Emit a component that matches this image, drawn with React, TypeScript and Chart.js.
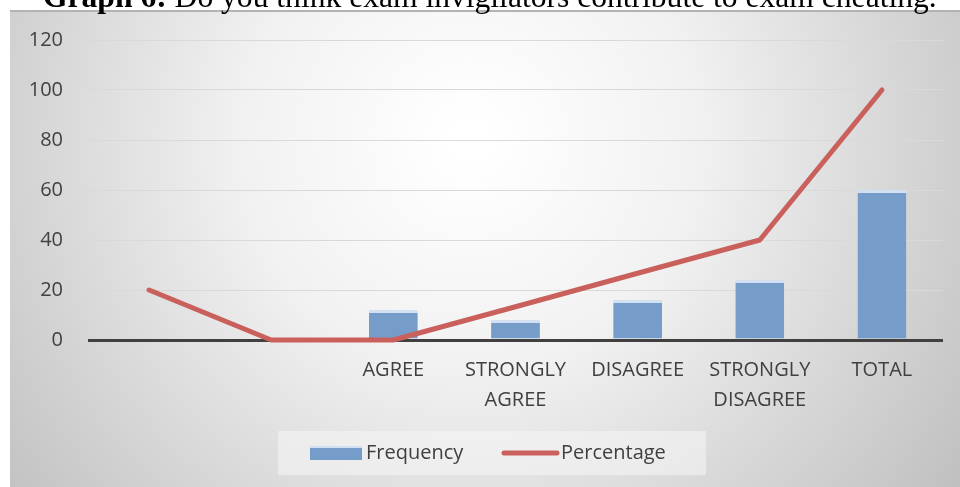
import { useEffect, useRef } from "react";
import { Chart, registerables } from "chart.js";

Chart.register(...registerables);

// Chart content
const TITLE_LEAD = "Graph 6:";
const TITLE_REST = " Do you think exam invigilators contribute to exam cheating.";
const categories: (string | string[])[] = [
  "",
  "",
  "AGREE",
  ["STRONGLY", "AGREE"],
  "DISAGREE",
  ["STRONGLY", "DISAGREE"],
  "TOTAL",
];
const frequency: (number | null)[] = [null, null, 12, 8, 16, 24, 60];
const percentage: number[] = [20, 0, 0, 13.3, 26.7, 40, 100];
const seriesNames = ["Frequency", "Percentage"];
const yMin = 0;
const yMax = 120;
const yStep = 20;

// Styling
const BAR_COLOR = "#769cc9";
const BAR_CAP = "#d3e0f1";
const LINE_COLOR = "#c9605c";
const TEXT_COLOR = "#404040";
const FONT = "'Open Sans', 'Liberation Sans', sans-serif";
const SERIF = "'Liberation Serif', 'DejaVu Serif', serif";

const W = 960;
const H = 487;
const FRAME_LEFT = 10;
const FRAME_TOP = 10;

const backdrop = {
  id: "backdrop",
  beforeDraw(chart: Chart) {
    const ctx = chart.ctx;
    ctx.save();
    ctx.fillStyle = "#ffffff";
    ctx.fillRect(0, 0, W, H);
    const g = ctx.createRadialGradient(470, 140, 20, 470, 140, 620);
    g.addColorStop(0, "#ffffff");
    g.addColorStop(0.35, "#f1f1f1");
    g.addColorStop(1, "#bdbdbd");
    ctx.fillStyle = g;
    ctx.fillRect(FRAME_LEFT, FRAME_TOP, W - FRAME_LEFT, H - FRAME_TOP);
    ctx.fillStyle = "#b3b3b3";
    ctx.fillRect(FRAME_LEFT, FRAME_TOP, W - FRAME_LEFT, 2);
    ctx.restore();
  },
};

const titleAndLegend = {
  id: "titleAndLegend",
  afterDraw(chart: Chart) {
    const ctx = chart.ctx;
    ctx.save();

    // Title, clipped at the top edge of the page
    const startX = 43;
    const endX = 937;
    let size = 28;
    ctx.font = `bold ${size}px ${SERIF}`;
    let w1 = ctx.measureText(TITLE_LEAD).width;
    ctx.font = `${size}px ${SERIF}`;
    let w2 = ctx.measureText(TITLE_REST).width;
    size = (size * (endX - startX)) / (w1 + w2);
    ctx.font = `bold ${size}px ${SERIF}`;
    w1 = ctx.measureText(TITLE_LEAD).width;
    ctx.fillStyle = "#000000";
    ctx.textBaseline = "alphabetic";
    ctx.textAlign = "left";
    ctx.fillText(TITLE_LEAD, startX, 7);
    ctx.font = `${size}px ${SERIF}`;
    ctx.fillText(TITLE_REST, startX + w1, 7);

    // Legend
    const bx = 278;
    const by = 431;
    ctx.fillStyle = "rgba(245,245,245,0.55)";
    ctx.fillRect(bx, by, 706 - bx, 475 - by);

    const cy = 453;
    ctx.fillStyle = BAR_COLOR;
    ctx.fillRect(310, cy - 7, 52, 14);
    ctx.fillStyle = BAR_CAP;
    ctx.fillRect(310, cy - 7, 52, 2);

    ctx.strokeStyle = LINE_COLOR;
    ctx.lineWidth = 5;
    ctx.lineCap = "round";
    ctx.beginPath();
    ctx.moveTo(504, cy);
    ctx.lineTo(557, cy);
    ctx.stroke();

    ctx.fillStyle = TEXT_COLOR;
    ctx.font = `20px ${FONT}`;
    ctx.textBaseline = "middle";
    ctx.fillText(seriesNames[0], 366, cy);
    ctx.fillText(seriesNames[1], 561, cy);

    ctx.restore();
  },
};

export default function App() {
  const ref = useRef<HTMLCanvasElement | null>(null);

  useEffect(() => {
    document.body.style.margin = "0";
    const canvas = ref.current;
    if (!canvas) return;
    const chart = new Chart(canvas, {
      type: "bar",
      data: {
        labels: categories,
        datasets: [
          {
            type: "line",
            label: seriesNames[1],
            data: percentage,
            borderColor: LINE_COLOR,
            backgroundColor: LINE_COLOR,
            borderWidth: 5,
            pointRadius: 0,
            tension: 0,
            borderCapStyle: "round",
            borderJoinStyle: "round",
            clip: false,
            order: 0,
          },
          {
            type: "bar",
            label: seriesNames[0],
            data: frequency,
            backgroundColor: BAR_COLOR,
            borderColor: BAR_CAP,
            borderWidth: { top: 3, left: 0, right: 0, bottom: 0 },
            borderSkipped: "bottom",
            barPercentage: 0.4,
            categoryPercentage: 1,
            order: 1,
          },
        ],
      },
      options: {
        responsive: false,
        animation: false,
        devicePixelRatio: 1,
        layout: { padding: { left: 0, right: 17, top: 40, bottom: 0 } },
        plugins: {
          legend: { display: false },
          title: { display: false },
          tooltip: { enabled: false },
        },
        scales: {
          x: {
            grid: { display: false, drawTicks: false },
            border: { display: false },
            ticks: {
              color: TEXT_COLOR,
              font: { family: FONT, size: 20, lineHeight: 1.5 },
              padding: 15,
              maxRotation: 0,
              autoSkip: false,
            },
            afterFit(scale: any) {
              scale.height = 147;
            },
          },
          y: {
            min: yMin,
            max: yMax,
            grid: {
              drawTicks: false,
              color: (c: any) => (c.tick && c.tick.value === 0 ? "#404040" : "#d9d9d9"),
              lineWidth: (c: any) => (c.tick && c.tick.value === 0 ? 3 : 1),
            },
            border: { display: false },
            ticks: {
              stepSize: yStep,
              color: TEXT_COLOR,
              font: { family: FONT, size: 20 },
              padding: 25,
            },
            afterFit(scale: any) {
              scale.width = 88;
            },
          },
        },
      },
      plugins: [backdrop, titleAndLegend],
    });
    return () => chart.destroy();
  }, []);

  return (
    <div style={{ position: "absolute", left: 0, top: 0, width: W, height: H }}>
      <canvas ref={ref} width={W} height={H} style={{ display: "block", width: W, height: H }} />
    </div>
  );
}
